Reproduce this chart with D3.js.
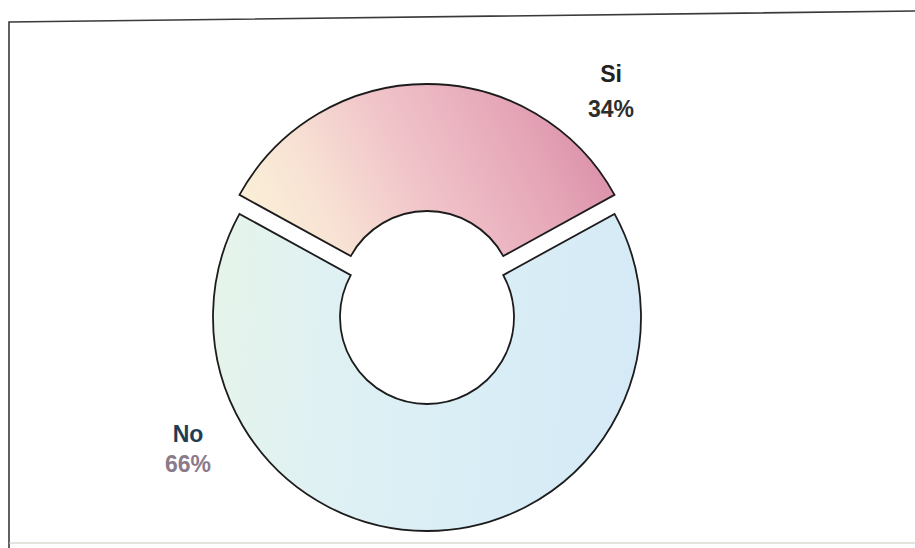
<!DOCTYPE html>
<html>
<head>
<meta charset="utf-8">
<script src="https://cdn.jsdelivr.net/npm/d3@7/dist/d3.min.js"></script>
<style>
  html, body { margin: 0; padding: 0; background: #ffffff; }
  svg { display: block; }
</style>
</head>
<body>
<svg id="chart" width="915" height="548"></svg>
<script>
// Survey answers and their shares (percent)
const categories = ["Si", "No"];
const values = [34, 66];

const svg = d3.select("#chart");
const W = 915, H = 548;

svg.append("rect").attr("width", W).attr("height", H).attr("fill", "#ffffff");

// Outer frame (top edge runs slightly off level)
svg.append("path")
  .attr("d", "M9,548 L9,22 L915,11")
  .attr("fill", "none")
  .attr("stroke", "#3a3a3a")
  .attr("stroke-width", 1.6);
svg.append("line")
  .attr("x1", 9).attr("x2", 915).attr("y1", 543).attr("y2", 543)
  .attr("stroke", "#c9c9c0").attr("stroke-width", 1.2);

const defs = svg.append("defs");

// Gradient coordinates are relative to each slice's own origin (the donut centre)
const gSi = defs.append("linearGradient")
  .attr("id", "grad-si")
  .attr("gradientUnits", "userSpaceOnUse")
  .attr("x1", -185).attr("y1", -40).attr("x2", 160).attr("y2", -210);
[["0%", "#fbf4d8"], ["25%", "#f8e2d4"], ["50%", "#f0c3c9"], ["78%", "#e6a7b8"], ["100%", "#d98ca7"]]
  .forEach(([o, c]) => gSi.append("stop").attr("offset", o).attr("stop-color", c));

const gNo = defs.append("linearGradient")
  .attr("id", "grad-no")
  .attr("gradientUnits", "userSpaceOnUse")
  .attr("x1", -214).attr("y1", -15).attr("x2", 214).attr("y2", 15);
[["0%", "#e6f4ea"], ["25%", "#dff1f2"], ["60%", "#daeef6"], ["100%", "#d5eaf6"]]
  .forEach(([o, c]) => gNo.append("stop").attr("offset", o).attr("stop-color", c));

const fills = { "Si": "url(#grad-si)", "No": "url(#grad-no)" };

const cx = 427, cy = 317;
const outerR = 214, innerR = 87;
const explode = { "Si": 19, "No": 0 };

const data = categories.map((c, i) => ({ name: c, value: values[i] }));

const total = d3.sum(values);
const pie = d3.pie()
  .sort(null)
  .value(d => d.value)
  .startAngle(-Math.PI * values[0] / total)
  .endAngle(2 * Math.PI - Math.PI * values[0] / total);

const arc = d3.arc().innerRadius(innerR).outerRadius(outerR);

const g = svg.append("g").attr("transform", `translate(${cx},${cy})`);

g.selectAll("path.slice")
  .data(pie(data))
  .join("path")
  .attr("class", "slice")
  .attr("d", arc)
  .attr("transform", d => {
    const mid = (d.startAngle + d.endAngle) / 2;
    const o = explode[d.data.name];
    return `translate(${o * Math.sin(mid)},${-o * Math.cos(mid)})`;
  })
  .attr("fill", d => fills[d.data.name])
  .attr("stroke", "#1c1c1c")
  .attr("stroke-width", 1.8)
  .attr("stroke-linejoin", "miter");

// Labels
const labelPos = {
  "Si": { x: 611, y1: 82, y2: 117, c1: "#222222", c2: "#2e2e2e" },
  "No": { x: 188, y1: 442, y2: 472, c1: "#1f3d55", c2: "#8a7a8a" }
};

const labels = svg.append("g")
  .attr("font-family", "'Liberation Sans', Arial, sans-serif")
  .attr("font-weight", "bold")
  .attr("font-size", 23)
  .attr("text-anchor", "middle");

data.forEach(d => {
  const p = labelPos[d.name];
  labels.append("text").attr("x", p.x).attr("y", p.y1).attr("fill", p.c1).text(d.name);
  labels.append("text").attr("x", p.x).attr("y", p.y2).attr("fill", p.c2).text(d.value + "%");
});
</script>
</body>
</html>
